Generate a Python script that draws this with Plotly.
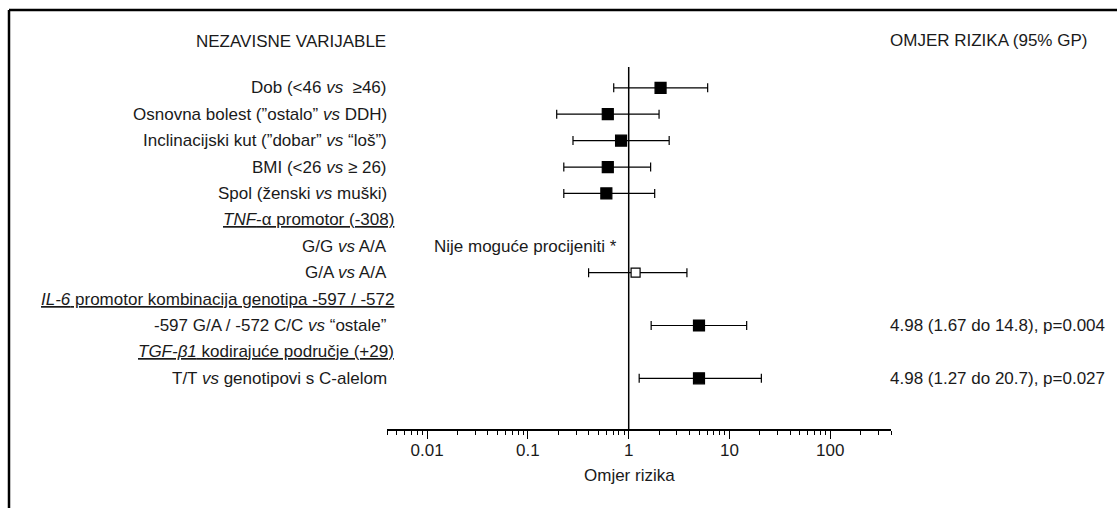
import math
import plotly.graph_objects as go

# ---- data ----
row_labels = [
    "Dob (<46 <i>vs</i>  ≥46)",
    "Osnovna bolest (\u201dostalo\u201d <i>vs</i> DDH)",
    "Inclinacijski kut (\u201ddobar\u201d <i>vs</i> \u201clo\u0161\u201d)",
    "BMI (<26 <i>vs</i> ≥ 26)",
    "Spol (\u017eenski <i>vs</i> mu\u0161ki)",
    "<u><i>TNF</i>-\u03b1 promotor (-308)</u>",
    "G/G <i>vs</i> A/A",
    "G/A <i>vs</i> A/A",
    "<u><i>IL-6</i> promotor kombinacija genotipa -597 / -572</u>",
    "-597 G/A / -572 C/C <i>vs</i> \u201costale\u201d",
    "<u><i>TGF-\u03b21</i> kodiraju\u0107e podru\u010dje (+29)</u>",
    "T/T <i>vs</i> genotipovi s C-alelom",
]
is_heading = [False, False, False, False, False, True, False, False, True, False, True, False]
odds_ratio = [2.07, 0.62, 0.84, 0.62, 0.60, None, None, 1.17, None, 4.98, None, 4.98]
ci_low = [0.71, 0.193, 0.28, 0.227, 0.227, None, None, 0.40, None, 1.67, None, 1.27]
ci_high = [6.07, 2.0, 2.52, 1.65, 1.81, None, None, 3.78, None, 14.8, None, 20.7]
open_marker = [False] * 7 + [True] + [False] * 4
right_text = {9: "4.98 (1.67 do 14.8), p=0.004", 11: "4.98 (1.27 do 20.7), p=0.027"}
not_estimable_row = 6
not_estimable_text = "Nije mogu\u0107e procijeniti *"
major_ticks = [0.01, 0.1, 1, 10, 100]
major_text = ["0.01", "0.1", "1", "10", "100"]
x_min, x_max = 0.004, 400

# ---- layout constants ----
W, H = 1117, 508
FONT = "Liberation Sans, Arial, Helvetica, sans-serif"
TXT = "#1a1a1a"
FS = 17
ax_left_px, ax_right_px = 387, 891
ax_y_px, top_px = 429, 67
row0_px, row_step_px = 87.8, 26.41

def py(p):
    return (H - p) / H

def px(p):
    return p / W

rows = list(range(len(row_labels)))
y_top = (top_px - row0_px) / row_step_px
y_bot = (ax_y_px - row0_px) / row_step_px

fig = go.Figure()

def add_series(idx, symbol, fill, size):
    xs = [odds_ratio[i] for i in idx]
    ys = [rows[i] for i in idx]
    plus = [ci_high[i] - odds_ratio[i] for i in idx]
    minus = [odds_ratio[i] - ci_low[i] for i in idx]
    fig.add_trace(go.Scatter(
        x=xs, y=ys, mode="markers",
        marker=dict(symbol=symbol, size=size, color=fill,
                    line=dict(color="black", width=1.2)),
        error_x=dict(type="data", symmetric=False, array=plus, arrayminus=minus,
                     color="black", thickness=1.2, width=4.5),
        showlegend=False, hoverinfo="skip",
    ))

filled = [i for i in rows if odds_ratio[i] is not None and not open_marker[i]]
opened = [i for i in rows if odds_ratio[i] is not None and open_marker[i]]
add_series(filled, "square", "black", 11)
add_series(opened, "square", "white", 9)

annotations = []
for i, lab in enumerate(row_labels):
    right = 396 if is_heading[i] else 389
    annotations.append(dict(
        x=px(right), xref="paper", y=rows[i], yref="y", text=lab,
        xanchor="right", yanchor="middle", showarrow=False,
        font=dict(family=FONT, size=FS, color=TXT)))

annotations.append(dict(
    x=px(432), xref="paper", y=rows[not_estimable_row], yref="y", text=not_estimable_text,
    xanchor="left", yanchor="middle", showarrow=False,
    font=dict(family=FONT, size=FS, color=TXT)))

for r, t in right_text.items():
    annotations.append(dict(
        x=px(888), xref="paper", y=rows[r], yref="y", text=t,
        xanchor="left", yanchor="middle", showarrow=False,
        font=dict(family=FONT, size=FS, color=TXT)))

annotations += [
    dict(x=px(388), xref="paper", y=py(42), yref="paper", text="NEZAVISNE VARIJABLE",
         xanchor="right", yanchor="middle", showarrow=False,
         font=dict(family=FONT, size=FS, color=TXT)),
    dict(x=px(888), xref="paper", y=py(41), yref="paper", text="OMJER RIZIKA (95% GP)",
         xanchor="left", yanchor="middle", showarrow=False,
         font=dict(family=FONT, size=FS, color=TXT)),
    dict(x=px(629), xref="paper", y=py(475), yref="paper", text="Omjer rizika",
         xanchor="center", yanchor="middle", showarrow=False,
         font=dict(family=FONT, size=FS, color=TXT)),
]

minor_vals = []
for e in range(-3, 3):
    for m in range(2, 10):
        v = m * 10 ** e
        if x_min - 1e-12 <= v <= x_max + 1e-9:
            minor_vals.append(v)

shapes = [
    # vertical reference line at OR = 1
    dict(type="line", xref="x", x0=1, x1=1, yref="y domain", y0=0, y1=1,
         line=dict(color="black", width=1.5)),
    # frame (top and left)
    dict(type="line", xref="paper", yref="paper", x0=px(9), x1=1, y0=py(10), y1=py(10),
         line=dict(color="black", width=2.5)),
    dict(type="line", xref="paper", yref="paper", x0=px(9), x1=px(9), y0=0, y1=py(10),
         line=dict(color="black", width=2.5)),
]

fig.update_layout(
    width=W, height=H, margin=dict(l=0, r=0, t=0, b=0),
    paper_bgcolor="white", plot_bgcolor="white",
    font=dict(family=FONT, size=FS, color=TXT),
    annotations=annotations, shapes=shapes,
    xaxis=dict(
        type="log", domain=[px(ax_left_px), px(ax_right_px)],
        range=[math.log10(x_min), math.log10(x_max)],
        tickvals=major_ticks, ticktext=major_text,
        ticks="outside", ticklen=8, tickwidth=1.2, tickcolor="black",
        ticklabelstandoff=-3,
        showline=True, linecolor="black", linewidth=1.5,
        showgrid=False, zeroline=False,
        tickfont=dict(family=FONT, size=FS, color=TXT),
        minor=dict(tickvals=minor_vals, ticks="outside", ticklen=4,
                   tickwidth=1, tickcolor="black", showgrid=False),
        anchor="y", fixedrange=True,
    ),
    yaxis=dict(
        domain=[py(ax_y_px), py(top_px)], range=[y_bot, y_top],
        visible=False, fixedrange=True,
    ),
)

fig.write_html(
    "out.html",
    config={"displayModeBar": False},
    post_script="document.body.style.margin='0';document.body.style.padding='0';",
)
